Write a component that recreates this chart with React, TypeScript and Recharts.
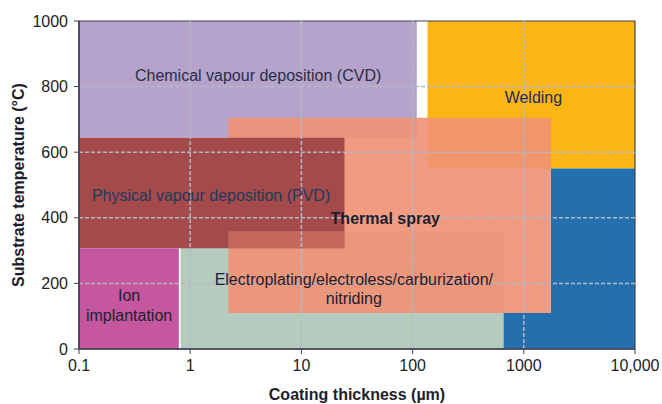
import React from "react";
import {
  ComposedChart,
  XAxis,
  YAxis,
  ReferenceArea,
  ReferenceLine,
  Scatter,
  Label,
} from "recharts";

// 공정별 영역 (두께 µm, 온도 °C)
const regionNames = [
  "Chemical vapour deposition (CVD)",
  "Welding",
  "Welding (lower, right)",
  "Welding (lower, bottom strip)",
  "Electroplating/electroless/carburization/nitriding",
  "Thermal spray",
  "Physical vapour deposition (PVD)",
  "Ion implantation",
  "Electroplating over PVD",
];
const thicknessMin = [0.1, 136, 1750, 100, 0.82, 2.2, 0.1, 0.1, 2.2];
const thicknessMax = [109, 10000, 10000, 10000, 660, 1750, 24.4, 0.79, 24.4];
const tempMin = [644, 550, 0, 0, 0, 110, 307, 0, 307];
const tempMax = [1000, 1000, 550, 110, 359, 705, 644, 307, 359];

// 영역 라벨
const labelTexts = [
  "Chemical vapour deposition (CVD)",
  "Welding",
  "Physical vapour deposition (PVD)",
  "Thermal spray",
  "Electroplating/electroless/carburization/",
  "nitriding",
  "Ion",
  "implantation",
];
const labelThickness = [4.08, 1220, 1.54, 56.8, 29.6, 29.6, 0.282, 0.282];
const labelTemp = [833, 766, 468, 398, 213, 155, 164, 103];

const xTicks = [0.1, 1, 10, 100, 1000, 10000];
const yTicks = [0, 200, 400, 600, 800, 1000];

/**
 * 영역 스타일
 */
const REGION_FILL = [
  "#b5a3cc",
  "#fbb616",
  "#2470ad",
  "#2470ad",
  "#b5cbbd",
  "#f09174",
  "#a44a4b",
  "#c4579e",
  "#f09174",
];
const REGION_OPACITY = [1, 1, 1, 1, 1, 0.9, 1, 1, 0.45];

const LABEL_COLOR = [
  "#2b2d42",
  "#1e2b5e",
  "#1d3a5c",
  "#1e1e2a",
  "#1e2030",
  "#1e2030",
  "#1e2030",
  "#1e2030",
];
const LABEL_BOLD = [false, false, false, true, false, false, false, false];

const FONT = "'Liberation Sans', Arial, sans-serif";
const AXIS = "#3d4352";
const GRID = "#b2b8c8";

const labelData = labelTexts.map((text, i) => ({
  x: labelThickness[i],
  y: labelTemp[i],
  text,
  i,
}));

const formatX = (v: number) => (v >= 10000 ? v.toLocaleString("en-US") : String(v));

function LabelShape(props: any) {
  const { cx, cy, payload } = props;
  return (
    <text
      x={cx}
      y={cy}
      dy="0.35em"
      textAnchor="middle"
      fontFamily={FONT}
      fontSize={16}
      fontWeight={LABEL_BOLD[payload.i] ? 700 : 400}
      fill={LABEL_COLOR[payload.i]}
    >
      {payload.text}
    </text>
  );
}

export default function App() {
  return (
    <div style={{ position: "absolute", left: 0, top: 0, width: 662, height: 404 }}>
      <ComposedChart
        width={662}
        height={404}
        margin={{ top: 21, right: 27, bottom: 0, left: 0 }}
      >
        {regionNames.map((name, i) => (
          <ReferenceArea
            key={name}
            x1={thicknessMin[i]}
            x2={thicknessMax[i]}
            y1={tempMin[i]}
            y2={tempMax[i]}
            fill={REGION_FILL[i]}
            fillOpacity={REGION_OPACITY[i]}
            stroke="none"
            ifOverflow="visible"
          />
        ))}
        {xTicks.slice(1, -1).map((v) => (
          <ReferenceLine
            key={`gx-${v}`}
            x={v}
            stroke={GRID}
            strokeWidth={1.5}
            strokeDasharray="4 2"
          />
        ))}
        {yTicks.slice(1, -1).map((v) => (
          <ReferenceLine
            key={`gy-${v}`}
            y={v}
            stroke={GRID}
            strokeWidth={1.5}
            strokeDasharray="4 2"
          />
        ))}
        <ReferenceArea
          x1={0.1}
          x2={10000}
          y1={0}
          y2={1000}
          fill="none"
          stroke={AXIS}
          strokeWidth={1.2}
          ifOverflow="visible"
        />
        <Scatter
          data={labelData}
          dataKey="y"
          shape={LabelShape}
          isAnimationActive={false}
        />
        <XAxis
          dataKey="x"
          type="number"
          scale="log"
          domain={[0.1, 10000]}
          ticks={xTicks}
          interval={0}
          allowDataOverflow
          tickFormatter={formatX}
          height={55}
          tickSize={5}
          tickMargin={6}
          axisLine={{ stroke: AXIS, strokeWidth: 1.5 }}
          tickLine={{ stroke: AXIS }}
          tick={{ fill: "#222", fontSize: 16, fontFamily: FONT }}
        >
          <Label
            value="Coating thickness (µm)"
            position="insideBottom"
            offset={4}
            style={{ fontFamily: FONT, fontSize: 16, fontWeight: 700, fill: "#1e1e2a" }}
          />
        </XAxis>
        <YAxis
          type="number"
          domain={[0, 1000]}
          ticks={yTicks}
          interval={0}
          allowDataOverflow
          width={79}
          tickSize={5}
          tickMargin={6}
          axisLine={{ stroke: AXIS, strokeWidth: 1.5 }}
          tickLine={{ stroke: AXIS }}
          tick={{ fill: "#222", fontSize: 16, fontFamily: FONT }}
        >
          <Label
            value="Substrate temperature (°C)"
            angle={-90}
            position="insideLeft"
            offset={18}
            style={{
              fontFamily: FONT,
              fontSize: 16,
              fontWeight: 700,
              fill: "#1e1e2a",
              textAnchor: "middle",
            }}
          />
        </YAxis>
      </ComposedChart>
    </div>
  );
}
